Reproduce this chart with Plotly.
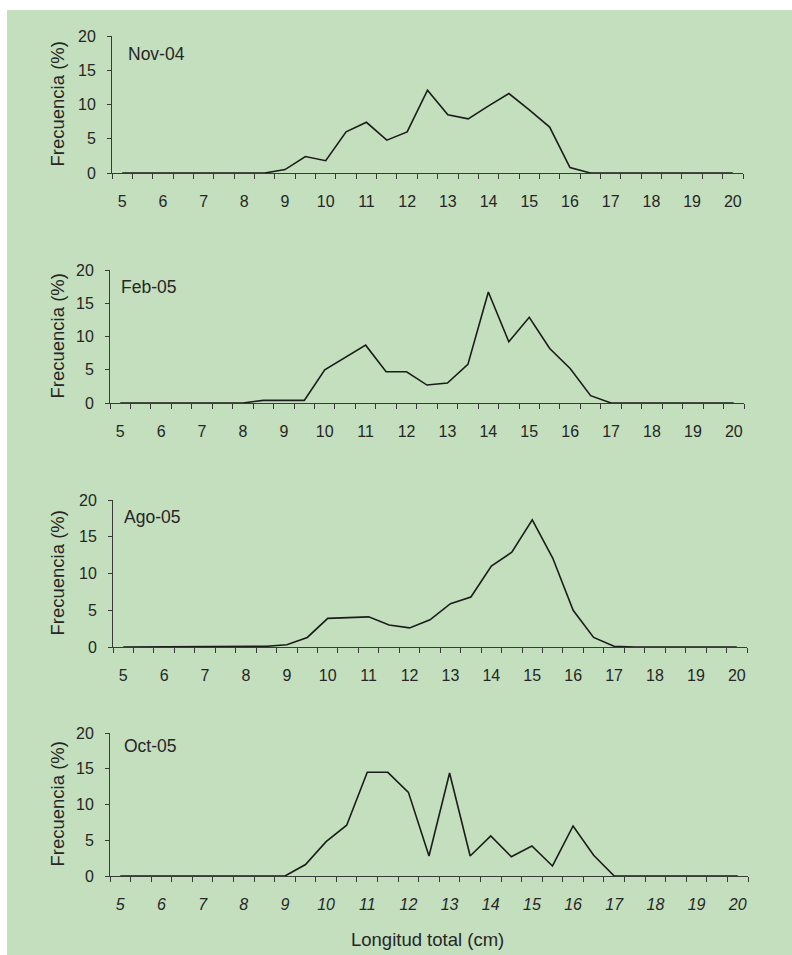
import plotly.graph_objects as go

W, H = 792, 955

longitud = [5, 5.5, 6, 6.5, 7, 7.5, 8, 8.5, 9, 9.5, 10, 10.5, 11, 11.5, 12, 12.5,
            13, 13.5, 14, 14.5, 15, 15.5, 16, 16.5, 17, 17.5, 18, 18.5, 19, 19.5, 20]

nov_04 = [0, 0, 0, 0, 0, 0, 0, 0, 0.5, 2.4, 1.8, 6.0, 7.4, 4.8, 6.0, 12.1,
          8.5, 7.9, 9.8, 11.6, 9.2, 6.7, 0.8, 0, 0, 0, 0, 0, 0, 0, 0]
feb_05 = [0, 0, 0, 0, 0, 0, 0, 0.4, 0.4, 0.4, 5.0, 6.8, 8.7, 4.7, 4.7, 2.7,
          3.0, 5.8, 16.7, 9.2, 12.9, 8.2, 5.2, 1.1, 0, 0, 0, 0, 0, 0, 0]
ago_05 = [0, 0, 0, 0, 0, 0, 0, 0.1, 0.3, 1.3, 3.9, 4.0, 4.1, 3.0, 2.6, 3.7,
          5.9, 6.8, 11.0, 12.9, 17.3, 12.1, 5.0, 1.3, 0.1, 0, 0, 0, 0, 0, 0]
oct_05 = [0, 0, 0, 0, 0, 0, 0, 0, 0, 1.6, 4.8, 7.1, 14.5, 14.5, 11.7, 2.8,
          14.4, 2.8, 5.6, 2.7, 4.2, 1.4, 7.0, 2.9, 0, 0, 0, 0, 0, 0, 0]

series = [("Nov-04", nov_04), ("Feb-05", feb_05), ("Ago-05", ago_05), ("Oct-05", oct_05)]

x_tick_vals = list(range(5, 21))
y_tick_vals = [0, 5, 10, 15, 20]

panels = [
    dict(x0=112, x1=743, yt=36, yb=173, lx=126, ly=53.5),
    dict(x0=110, x1=744, yt=270, yb=403, lx=119, ly=286.5),
    dict(x0=113, x1=747, yt=500, yb=647, lx=122, ly=517),
    dict(x0=110, x1=748, yt=733, yb=876, lx=122, ly=746),
]

FONT = "Liberation Sans, Arial, sans-serif"
TXT = "#262626"
AX = "#3a3a3a"

fig = go.Figure()
layout = dict(width=W, height=H, margin=dict(l=0, r=0, t=0, b=0, pad=0),
              autosize=False,
              paper_bgcolor="white", plot_bgcolor="rgba(0,0,0,0)",
              showlegend=False, font=dict(family=FONT, color=TXT))

annotations = []
for i, ((name, vals), p) in enumerate(zip(series, panels)):
    k = "" if i == 0 else str(i + 1)
    fig.add_trace(go.Scatter(x=longitud, y=vals, mode="lines", name=name,
                             line=dict(color="#1c1c1c", width=1.6),
                             xaxis="x" + k, yaxis="y" + k))
    italic = (i == 3)
    layout["xaxis" + k] = dict(
        domain=[p["x0"] / W, p["x1"] / W],
        anchor="y" + k, range=[4.75, 20.25], automargin=False,
        showgrid=False, zeroline=False,
        showline=True, linecolor=AX, linewidth=1,
        tickvals=x_tick_vals, ticktext=[str(v) for v in x_tick_vals],
        ticks="", ticklabelstandoff=14,
        tickfont=dict(size=16, family=FONT, color=TXT,
                      style="italic" if italic else "normal"),
        minor=dict(tick0=4.75, dtick=0.5, ticks="outside", ticklen=5,
                   tickcolor=AX, tickwidth=1, showgrid=False),
    )
    layout["yaxis" + k] = dict(
        domain=[1 - p["yb"] / H, 1 - p["yt"] / H],
        anchor="x" + k, range=[0, 20], automargin=False,
        showgrid=False, zeroline=False,
        showline=True, linecolor=AX, linewidth=1,
        tickvals=y_tick_vals, ticks="outside", ticklen=4, tickcolor=AX,
        ticklabelstandoff=8,
        tickfont=dict(size=16, family=FONT, color=TXT),
    )
    annotations.append(dict(text=name, xref="paper", yref="paper",
                            x=p["lx"] / W, y=1 - p["ly"] / H,
                            xanchor="left", yanchor="middle", showarrow=False,
                            font=dict(size=17.5, family=FONT, color=TXT)))
    annotations.append(dict(text="Frecuencia (%)", xref="paper", yref="paper",
                            x=57 / W, y=1 - (p["yt"] + p["yb"]) / 2 / H,
                            xanchor="center", yanchor="middle", textangle=-90,
                            showarrow=False,
                            font=dict(size=18.5, family=FONT, color=TXT)))

annotations.append(dict(text="Longitud total (cm)", xref="paper", yref="paper",
                        x=427 / W, y=1 - 939 / H, xanchor="center", yanchor="middle",
                        showarrow=False, font=dict(size=18.5, family=FONT, color=TXT)))

layout["annotations"] = annotations
layout["shapes"] = [dict(type="rect", xref="paper", yref="paper",
                         x0=7 / W, x1=1, y0=0, y1=1 - 10 / H,
                         fillcolor="#c3dfbd", line=dict(width=0), layer="below")]

fig.update_layout(**layout)
fig.write_html(
    "out.html",
    config={"displayModeBar": False},
    post_script=(
        "var gd=document.getElementById('{plot_id}');"
        "gd.style.position='fixed';gd.style.top='0px';gd.style.left='0px';"
        "document.body.style.margin='0px';"
        "document.documentElement.style.overflow='hidden';"
        "document.body.style.overflow='hidden';"
    ),
)
